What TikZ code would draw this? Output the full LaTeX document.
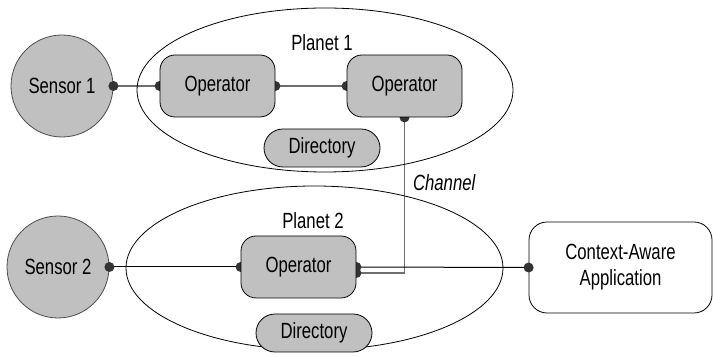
\documentclass[tikz,border=0pt]{standalone}
\usepackage{fontspec}
\setmainfont[FakeStretch=0.76]{Liberation Sans}
\usetikzlibrary{shapes.geometric,positioning}
\pgfdeclarelayer{bg}
\pgfsetlayers{bg,main}
\definecolor{boxgray}{HTML}{C0C0C0}
\definecolor{dotgray}{HTML}{333333}
\definecolor{wiregray}{HTML}{6E6E6E}

\begin{document}
\begin{tikzpicture}[x=0.5pt,y=-0.5pt,
    font=\fontsize{11}{13}\selectfont,
    sensor/.style={circle,draw=black!70,fill=boxgray,minimum size=51pt,inner sep=0pt},
    operator/.style={rectangle,rounded corners=7.5pt,draw,fill=boxgray,minimum width=57.5pt,minimum height=31pt},
    directory/.style={rectangle,rounded corners=9.5pt,draw,fill=boxgray,minimum width=58pt,minimum height=19pt},
    planet/.style={ellipse,draw,inner sep=0pt},
    wire/.style={draw=wiregray,line width=0.6pt},
    jack/.style={fill=dotgray}]
    \useasboundingbox (0,0) rectangle (713,357);

    % planets
    \node[planet,minimum width=188pt,minimum height=82pt] (planetA) at (325,90) {};
    \node (planetAlbl) at (322,43) {Planet 1};
    \node[planet,minimum width=188.5pt,minimum height=82pt] (planetB) at (314.5,268) {};
    \node (planetBlbl) at (313,221) {Planet 2};

    % sensors and operators
    \node[sensor] (sensorA) at (62,86) {Sensor 1};
    \node[sensor] (sensorB) at (58,267) {Sensor 2};
    \node[operator] (opA) at (217.5,86) {Operator};
    \node[operator] (opAA) at (404.5,86) {Operator};
    \node[operator] (opB) at (298.5,267) {Operator};
    \node[directory] (dirA) at (322,148) {Directory};
    \node[directory] (dirB) at (314,333) {Directory};
    \node[rectangle,rounded corners=9pt,draw,minimum width=91.5pt,minimum height=45.5pt,align=center]
        (app) at (620.5,267.5) {Context-Aware\\Application};
    \node[anchor=west,font=\fontsize{11}{13}\selectfont\itshape] (chan) at (406,183) {Channel};

    \coordinate (chanIn) at ([yshift=-3pt]opB.east);

    % connectors behind the boxes
    \begin{pgfonlayer}{bg}
        \draw[wire] (sensorA.east) -- (opA.west);
        \draw[wire] (opA.east) -- (opAA.west);
        \draw[wire] (opAA.south) |- (chanIn);
        \draw[line width=0.5pt] (sensorB.east) -- (opB.west);
        \draw[line width=0.5pt] (opB.east) -- (app.west);
        \foreach \p in {opA.west,opA.east,opAA.west,opAA.south,opB.west,opB.east,chanIn}
            \fill[jack] (\p) circle (2.5pt);
    \end{pgfonlayer}

    \foreach \p in {sensorA.east,sensorB.east,app.west}
        \fill[jack] (\p) circle (2.5pt);
\end{tikzpicture}
\end{document}
